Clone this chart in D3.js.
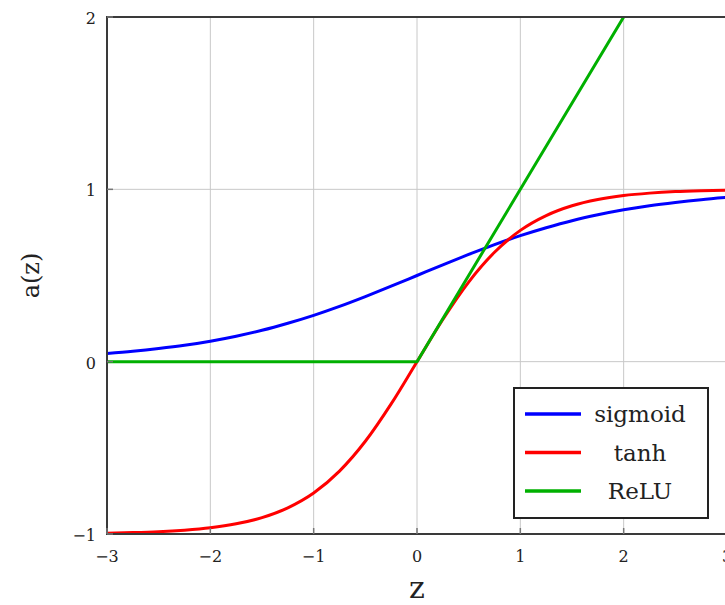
<!DOCTYPE html>
<html lang="en">
<head>
<meta charset="utf-8">
<title>Activation functions</title>
<script src="https://d3js.org/d3.v7.min.js"></script>
<style>
  body { margin: 0; background: #fff; }
  svg { font-family: "DejaVu Serif", "Liberation Serif", serif; }
</style>
</head>
<body>
<script>
// values, step 0.25 on z
var zs = [-3, -2.75, -2.5, -2.25, -2, -1.75, -1.5, -1.25, -1, -0.75, -0.5, -0.25, 0,
          0.25, 0.5, 0.75, 1, 1.25, 1.5, 1.75, 2, 2.25, 2.5, 2.75, 3];
var sigmoidVals = [0.047, 0.060, 0.076, 0.095, 0.119, 0.148, 0.182, 0.223, 0.269, 0.321, 0.378, 0.438, 0.5,
                   0.562, 0.622, 0.679, 0.731, 0.777, 0.818, 0.852, 0.881, 0.905, 0.924, 0.940, 0.953];
var tanhVals = [-0.995, -0.992, -0.987, -0.978, -0.964, -0.941, -0.905, -0.848, -0.762, -0.635, -0.462, -0.245, 0,
                0.245, 0.462, 0.635, 0.762, 0.848, 0.905, 0.941, 0.964, 0.978, 0.987, 0.992, 0.995];
var reluZs = [-3, 0, 3];
var reluVals = [0, 0, 3];
var xTicks = [-3, -2, -1, 0, 1, 2, 3];
var yTicks = [-1, 0, 1, 2];
var seriesNames = ["sigmoid", "tanh", "ReLU"];
var seriesColors = ["#0000ff", "#ff0000", "#00b000"];

var width = 725, height = 605;
var plot = {left: 107, right: 727, top: 17, bottom: 534};

var svg = d3.select("body").append("svg")
  .attr("width", width)
  .attr("height", height);

var x = d3.scaleLinear().domain([-3, 3]).range([plot.left, plot.right]);
var y = d3.scaleLinear().domain([-1, 2]).range([plot.bottom, plot.top]);

// grid
svg.append("g").selectAll("line")
  .data(xTicks).enter().append("line")
  .attr("x1", function(d) { return x(d); })
  .attr("x2", function(d) { return x(d); })
  .attr("y1", plot.top).attr("y2", plot.bottom)
  .style("stroke", "#c8c8c8").style("stroke-width", 1);
svg.append("g").selectAll("line")
  .data(yTicks).enter().append("line")
  .attr("y1", function(d) { return y(d); })
  .attr("y2", function(d) { return y(d); })
  .attr("x1", plot.left).attr("x2", plot.right)
  .style("stroke", "#c8c8c8").style("stroke-width", 1);

// clip
svg.append("clipPath").attr("id", "clip")
  .append("rect")
  .attr("x", plot.left).attr("y", plot.top)
  .attr("width", plot.right - plot.left).attr("height", plot.bottom - plot.top);

var smooth = d3.line()
  .x(function(d) { return x(d[0]); })
  .y(function(d) { return y(d[1]); })
  .curve(d3.curveMonotoneX);
var straight = d3.line()
  .x(function(d) { return x(d[0]); })
  .y(function(d) { return y(d[1]); });

var series = [
  d3.zip(zs, sigmoidVals),
  d3.zip(zs, tanhVals),
  d3.zip(reluZs, reluVals)
];

var curves = svg.append("g").attr("clip-path", "url(#clip)");
series.forEach(function(s, i) {
  curves.append("path")
    .datum(s)
    .attr("d", i == 2 ? straight : smooth)
    .style("fill", "none")
    .style("stroke", seriesColors[i])
    .style("stroke-width", 3)
    .style("stroke-linejoin", "round");
});

// axes frame
svg.append("rect")
  .attr("x", plot.left).attr("y", plot.top)
  .attr("width", plot.right - plot.left).attr("height", plot.bottom - plot.top)
  .style("fill", "none").style("stroke", "#3a3a3a").style("stroke-width", 2);

// tick marks
svg.append("g").selectAll("line")
  .data(xTicks).enter().append("line")
  .attr("x1", function(d) { return x(d); })
  .attr("x2", function(d) { return x(d); })
  .attr("y1", plot.bottom).attr("y2", plot.bottom - 6)
  .style("stroke", "#777").style("stroke-width", 1.5);
svg.append("g").selectAll("line")
  .data(yTicks).enter().append("line")
  .attr("y1", function(d) { return y(d); })
  .attr("y2", function(d) { return y(d); })
  .attr("x1", plot.left).attr("x2", plot.left + 6)
  .style("stroke", "#777").style("stroke-width", 1.5);

var fmt = function(d) { return d < 0 ? "\u2212" + Math.abs(d) : String(d); };

svg.append("g").selectAll("text")
  .data(xTicks).enter().append("text")
  .attr("x", function(d) { return x(d); })
  .attr("y", 562)
  .attr("text-anchor", "middle")
  .style("font-size", "16px").style("fill", "#222")
  .text(fmt);

svg.append("g").selectAll("text")
  .data(yTicks).enter().append("text")
  .attr("x", 96)
  .attr("y", function(d) { return y(d) + 7; })
  .attr("text-anchor", "end")
  .style("font-size", "16px").style("fill", "#222")
  .text(fmt);

// axis labels
svg.append("text")
  .attr("x", x(0)).attr("y", 598)
  .attr("text-anchor", "middle")
  .style("font-size", "30px").style("fill", "#222")
  .text("z");

svg.append("text")
  .attr("transform", "translate(39," + y(0.5) + ") rotate(-90)")
  .attr("text-anchor", "middle")
  .style("font-size", "24px").style("fill", "#222")
  .text("a(z)");

// legend
var legend = svg.append("g").attr("transform", "translate(514,388)");
legend.append("rect")
  .attr("width", 194).attr("height", 130)
  .style("fill", "#fff").style("stroke", "#222").style("stroke-width", 2);
var items = legend.selectAll("g.item")
  .data(seriesNames).enter().append("g")
  .attr("transform", function(d, i) { return "translate(0," + (26 + i * 38.5) + ")"; });
items.append("line")
  .attr("x1", 11).attr("x2", 67).attr("y1", 0).attr("y2", 0)
  .style("stroke", function(d, i) { return seriesColors[i]; })
  .style("stroke-width", 3.5);
items.append("text")
  .attr("x", 126).attr("y", 8)
  .attr("text-anchor", "middle")
  .style("font-size", "23px").style("fill", "#222")
  .text(function(d) { return d; });
</script>
</body>
</html>
